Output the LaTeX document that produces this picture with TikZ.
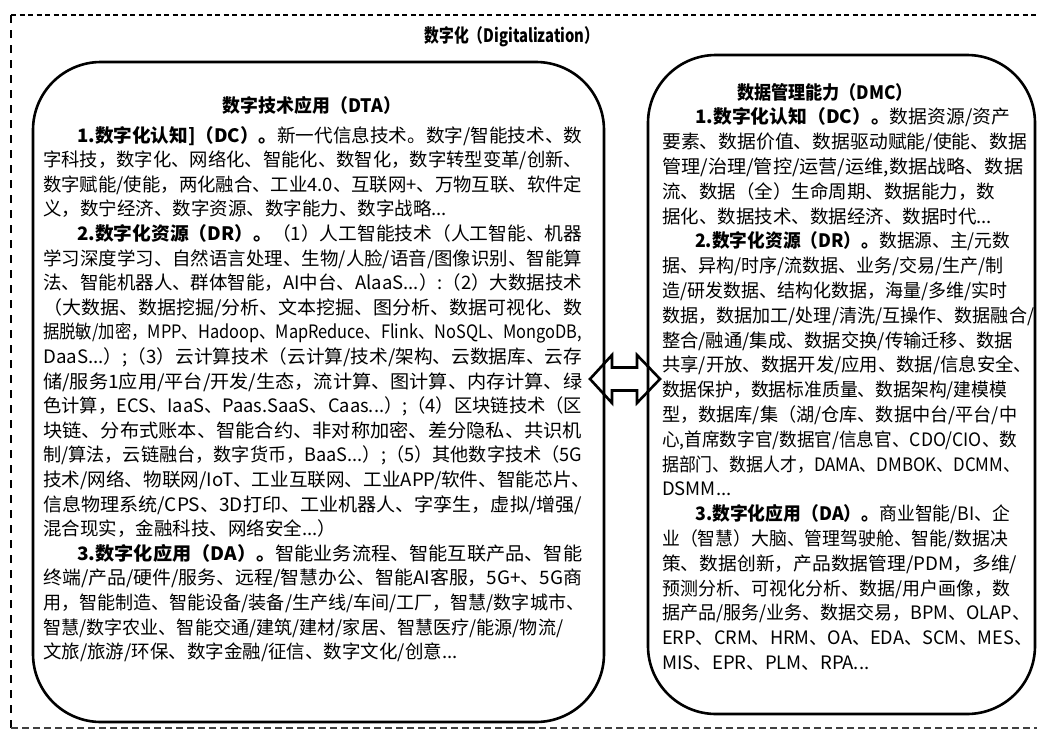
\documentclass[tikz,border=0pt]{standalone}
\usepackage{fontspec}
\setmainfont{Noto Sans CJK SC}
\usepackage{graphicx}
\newcommand\J[2]{\resizebox{#1pt}{\height}{#2}}
\tikzset{
  topdash/.style={line width=2.2pt, dash pattern=on 5pt off 3.5pt},
  sidedash/.style={line width=2.2pt, dash pattern=on 8pt off 7pt},
  botdash/.style={line width=1.3pt, dash pattern=on 6.5pt off 4.5pt, black!75},
  box/.style={draw, line width=2.6pt, rounded corners=68pt, inner sep=0pt},
  dblarrow/.style={line width=2.6pt, line join=miter},
  ln/.style={anchor=base west, inner sep=0pt, font=\fontsize{18.5pt}{22pt}\selectfont},
  ttl/.style={anchor=base, inner sep=0pt, font=\fontsize{18.5pt}{22pt}\selectfont\bfseries},
}
\begin{document}
\begin{tikzpicture}[x=1pt,y=-1pt]
\useasboundingbox[fill=white] (0,0) rectangle (1037,731);
% outer dashed frame
\draw[topdash] (11,15) -- (1037,15);
\draw[sidedash] (11,15) -- (11,728);
\draw[botdash] (11,728) -- (1037,728);
\node[ttl] (title) at (512,42) {\J{175}{数字化（Digitalization）}};
% boxes
\node[box, minimum width=571pt, minimum height=660pt] (dta) at (318.5,392) {};
\node[box, minimum width=387pt, minimum height=659pt] (dmc) at (841.5,384.5) {};
% double arrow
\coordinate (arr) at (625,379);
\draw[dblarrow] (arr) ++(-35,0) -- ++(22,-24) -- ++(0,12.5) -- ++(25,0) -- ++(0,-12.5)
  -- ++(23,24) -- ++(-23,24) -- ++(0,-12.5) -- ++(-25,0) -- ++(0,12.5) -- cycle;
% left box text
\node[ttl] (dtat) at (312,112) {\J{178}{数字技术应用（DTA）}};
\node[ln] (l1) at (77,142) {\J{505}{\textbf{1.数字化认知]（DC）。}新一代信息技术。数字/智能技术、数}};
\node[ln] (l2) at (43,166.6) {\J{539}{字科技，数字化、网络化、智能化、数智化，数字转型变革/创新、}};
\node[ln] (l3) at (43,191.2) {\J{539}{数字赋能/使能，两化融合、工业4.0、互联网+、万物互联、软件定}};
\node[ln] (l4) at (43,215.8) {义，数宁经济、数字资源、数字能力、数字战略...};
\node[ln] (l5) at (77,240.4) {\J{505}{\textbf{2.数字化资源（DR）。}（1）人工智能技术（人工智能、机器}};
\node[ln] (l6) at (43,265) {\J{539}{学习深度学习、自然语言处理、生物/人脸/语音/图像识别、智能算}};
\node[ln] (l7) at (43,289.6) {\J{539}{法、智能机器人、群体智能，AI中台、AlaaS...）:（2）大数据技术}};
\node[ln] (l8) at (43,314.2) {\J{539}{（大数据、数据挖掘/分析、文本挖掘、图分析、数据可视化、数}};
\node[ln] (l9) at (43,338.8) {\J{539}{据脱敏/加密，MPP、Hadoop、MapReduce、Flink、NoSQL、MongoDB,}};
\node[ln] (l10) at (43,363.4) {\J{539}{DaaS...）;（3）云计算技术（云计算/技术/架构、云数据库、云存}};
\node[ln] (l11) at (43,388) {\J{539}{储/服务1应用/平台/开发/生态，流计算、图计算、内存计算、绿}};
\node[ln] (l12) at (43,412.6) {\J{539}{色计算，ECS、IaaS、Paas.SaaS、Caas...）;（4）区块链技术（区}};
\node[ln] (l13) at (43,437.2) {\J{539}{块链、分布式账本、智能合约、非对称加密、差分隐私、共识机}};
\node[ln] (l14) at (43,461.8) {\J{539}{制/算法，云链融台，数字货币，BaaS...）;（5）其他数字技术（5G}};
\node[ln] (l15) at (43,486.4) {\J{547}{技术/网络、物联网/IoT、工业互联网、工业APP/软件、智能芯片、}};
\node[ln] (l16) at (43,511) {\J{539}{信息物理系统/CPS、3D打印、工业机器人、字孪生，虚拟/增强/}};
\node[ln] (l17) at (43,535.6) {混合现实，金融科技、网络安全...）};
\node[ln] (l18) at (77,560.2) {\J{505}{\textbf{3.数字化应用（DA）。}智能业务流程、智能互联产品、智能}};
\node[ln] (l19) at (43,584.8) {\J{539}{终端/产品/硬件/服务、远程/智慧办公、智能AI客服，5G+、5G商}};
\node[ln] (l20) at (43,609.4) {\J{541}{用，智能制造、智能设备/装备/生产线/车间/工厂，智慧/数字城市、}};
\node[ln] (l21) at (43,634) {\J{520}{智慧/数字农业、智能交通/建筑/建材/家居、智慧医疗/能源/物流/}};
\node[ln] (l22) at (43,658.6) {文旅/旅游/环保、数字金融/征信、数字文化/创意...};
% right box text
\node[ttl] (dmct) at (825,99) {\J{176}{数据管理能力（DMC）}};
\node[ln] (r1) at (695,123.8) {\J{315}{\textbf{1.数字化认知（DC）。}数据资源/资产}};
\node[ln] (r2) at (662,148.6) {\J{365}{要素、数据价值、数据驱动赋能/使能、数据}};
\node[ln] (r3) at (662,173.4) {\J{361}{管理/治理/管控/运营/运维,数据战略、数据}};
\node[ln] (r4) at (662,198.2) {\J{333}{流、数据（全）生命周期、数据能力，数}};
\node[ln] (r5) at (662,223) {据化、数据技术、数据经济、数据时代...};
\node[ln] (r6) at (695,247.8) {\J{315}{\textbf{2.数字化资源（DR）。}数据源、主/元数}};
\node[ln] (r7) at (662,272.6) {\J{341}{据、异构/时序/流数据、业务/交易/生产/制}};
\node[ln] (r8) at (662,297.4) {\J{345}{造/研发数据、结构化数据，海量/多维/实时}};
\node[ln] (r9) at (662,322.2) {\J{372}{数据，数据加工/处理/清洗/互操作、数据融合/}};
\node[ln] (r10) at (662,347) {\J{351}{整合/融通/集成、数据交换/传输迁移、数据}};
\node[ln] (r11) at (662,371.8) {\J{370}{共享/开放、数据开发/应用、数据/信息安全、}};
\node[ln] (r12) at (662,396.6) {\J{345}{数据保护，数据标准质量、数据架构/建模模}};
\node[ln] (r13) at (662,421.4) {\J{355}{型，数据库/集（湖/仓库、数据中台/平台/中}};
\node[ln] (r14) at (662,446.2) {\J{355}{心,首席数字官/数据官/信息官、CDO/CIO、数}};
\node[ln] (r15) at (662,471) {\J{358}{据部门、数据人才，DAMA、DMBOK、DCMM、}};
\node[ln] (r16) at (662,495.8) {DSMM...};
\node[ln] (r17) at (695,520.6) {\J{315}{\textbf{3.数字化应用（DA）。}商业智能/BI、企}};
\node[ln] (r18) at (662,545.4) {\J{346}{业（智慧）大脑、管理驾驶舱、智能/数据决}};
\node[ln] (r19) at (662,570.2) {\J{355}{策、数据创新，产品数据管理/PDM，多维/}};
\node[ln] (r20) at (662,595) {\J{348}{预测分析、可视化分析、数据/用户画像，数}};
\node[ln] (r21) at (662,619.8) {\J{368}{据产品/服务/业务、数据交易，BPM、OLAP、}};
\node[ln] (r22) at (662,644.6) {\J{370}{ERP、CRM、HRM、OA、EDA、SCM、MES、}};
\node[ln] (r23) at (662,669.4) {MIS、EPR、PLM、RPA...};
\end{tikzpicture}
\end{document}
